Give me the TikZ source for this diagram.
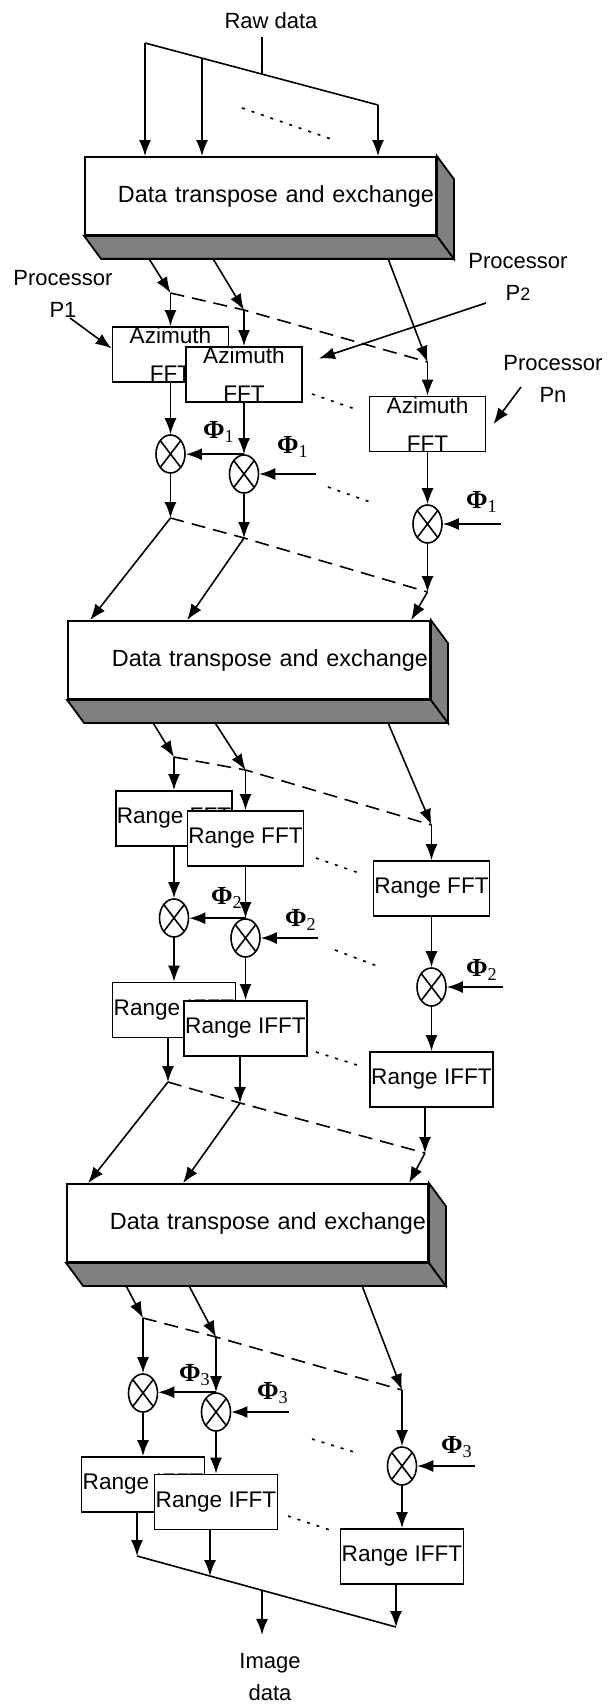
\documentclass[tikz,border=0pt]{standalone}
\usepackage[no-math]{fontspec}
\setmainfont{Liberation Sans}
\newfontfamily\phifont{Liberation Serif}
\usepackage{tikz}
\usetikzlibrary{shapes.geometric,arrows.meta,calc,positioning}

\newcommand{\phterm}[1]{\textbf{Φ}\textsubscript{#1}}

\tikzset{
  wire/.style={line width=0.8pt},
  flow/.style={wire, -{Latex[length=8pt,width=6pt]}},
  link/.style={line width=0.8pt, dash pattern=on 7pt off 4pt},
  skip/.style={line width=0.8pt, dash pattern=on 1.5pt off 3.5pt},
  xchg/.style={draw, line width=0.9pt, fill=white, minimum height=39pt,
    inner sep=1pt, align=right, font=\fontsize{11.7}{14}\selectfont},
  face/.style={draw, line width=0.9pt, fill=gray},
  procbox/.style={draw, line width=0.9pt, fill=white, minimum width=58pt,
    minimum height=27.5pt, inner sep=0pt, align=center,
    font=\fontsize{11.3}{19}\selectfont},
  mult/.style={ellipse, draw, line width=0.8pt, fill=white, minimum width=14.5pt,
    minimum height=19pt, inner sep=0pt,
    path picture={\draw[line width=0.8pt]
      (path picture bounding box.north west) -- (path picture bounding box.south east)
      (path picture bounding box.north east) -- (path picture bounding box.south west);}},
  plabel/.style={align=center, inner sep=1pt, font=\fontsize{11}{16}\selectfont},
  phase/.style={inner sep=0pt, font=\phifont\fontsize{13}{13}\selectfont}
}

\begin{document}
\begin{tikzpicture}[x=0.5pt,y=-0.5pt]
    \useasboundingbox (0,0) rectangle (607,1706);

    % Raw data
    \node[plabel] (raw) at (271,21) {Raw data};
    \coordinate (rl) at (145,43);
    \coordinate (rm) at (202,58);
    \coordinate (rj) at (262,74);
    \coordinate (rr) at (378,105);

    % Transpose 1
    \node[xchg, minimum width=175.5pt, text width=173.5pt] (tr1) at (260.5,196) {Data transpose and exchange};
    \draw[face] (tr1.south west) -- (tr1.south east) -- ++(17,23) -- ([shift={(17,23)}]tr1.south west) -- cycle;
    \draw[face] (tr1.north east) -- ++(17,23) -- ([shift={(17,23)}]tr1.south east) -- (tr1.south east) -- cycle;

    \draw[wire] ($(rj |- raw.south)+(0,6)$) -- (rj);
    \draw[wire] (rl) -- (rr);
    \foreach \c in {rl,rm,rr}
        \draw[flow] (\c) -- (\c |- tr1.north);
    \draw[skip] (242,108) -- (331,139);

    % Processors
    \node[plabel] (p1) at (63,294) {Processor\\P1};
    \node[plabel] (p2) at (518,277) {Processor\\P{\fontsize{9}{9}\selectfont 2}};
    \node[plabel] (pn) at (553,379) {Processor\\Pn};

    % Azimuth FFT
    \coordinate (a1j) at (170.5,293);
    \coordinate (a2j) at (244,310);
    \coordinate (anj) at (427.5,362);
    \foreach \s/\j in {65/a1j, 129/a2j, 304/anj}
        \draw[flow] ($(tr1.south west)+(\s,23)$) -- (\j);
    \draw[link] (a1j) -- (a2j) -- (anj);

    \node[procbox] (az1) at (170.5,354.5) {Azimuth\\FFT};
    \node[procbox] (az2) at (244,374.5) {Azimuth\\FFT};
    \node[procbox] (azn) at (427.5,424) {Azimuth\\FFT};
    \draw[flow] (a1j) -- (az1.north);
    \draw[flow] (a2j) -- (az2.north);
    \draw[flow] (anj) -- (azn.north);
    \draw[skip] (312,394) -- (355,409);

    \coordinate (p1t) at (70,318);
    \coordinate (p2t) at (486,303);
    \coordinate (pnt) at (521,387);
    \draw[flow] (p1t) -- ([yshift=3pt]az1.west);
    \draw[flow] (p2t) -- ([shift={(8pt,8pt)}]az2.east);
    \draw[flow] (pnt) -- ([xshift=3.5pt]azn.east);

    % Phi 1
    \node[mult] (m11) at (170.5,454) {};
    \node[mult] (m12) at (244,474) {};
    \node[mult] (m1n) at (427.5,524) {};
    \draw[flow] (az1.south) -- (m11.north);
    \draw[flow] (az2.south) -- (m12.north);
    \draw[flow] (azn.south) -- (m1n.north);
    \draw[flow] (m12.north) -- (m12.north -| m11.east);
    \coordinate (f12) at (316,474);
    \coordinate (f1n) at (501,524);
    \draw[flow] (f12) -- (m12.east);
    \draw[flow] (f1n) -- (m1n.east);
    \node[phase] (ph11) at (219,432) {\phterm{1}};
    \node[phase] (ph12) at (293,447) {\phterm{1}};
    \node[phase] (ph1n) at (482,502) {\phterm{1}};
    \draw[skip] (328,487) -- (370,502);

    \coordinate (b1j) at (170.5,518);
    \coordinate (b2j) at (244,538);
    \coordinate (bnj) at (427.5,592);
    \draw[flow] (m11.south) -- (b1j);
    \draw[flow] (m12.south) -- (b2j);
    \draw[flow] (m1n.south) -- (bnj);
    \draw[link] (b1j) -- (b2j) -- (bnj);

    % Transpose 2
    \node[xchg, minimum width=181pt, text width=179pt] (tr2) at (249,660) {Data transpose and exchange};
    \draw[face] (tr2.south west) -- (tr2.south east) -- ++(17,23) -- ([shift={(17,23)}]tr2.south west) -- cycle;
    \draw[face] (tr2.north east) -- ++(17,23) -- ([shift={(17,23)}]tr2.south east) -- (tr2.south east) -- cycle;
    \foreach \j/\s in {b1j/23, b2j/120, bnj/344}
        \draw[flow] (\j) -- ($(tr2.north west)+(\s,0)$);

    % Range FFT
    \coordinate (d1j) at (174,757);
    \coordinate (d2j) at (245.5,770);
    \coordinate (dnj) at (431.5,825);
    \foreach \s/\j in {86/d1j, 148/d2j, 321/dnj}
        \draw[flow] ($(tr2.south west)+(\s,23)$) -- (\j);
    \draw[link] (d1j) -- (d2j) -- (dnj);

    \node[procbox] (rf1) at (174,818.5) {Range FFT};
    \node[procbox] (rf2) at (245.5,838.5) {Range FFT};
    \node[procbox] (rfn) at (431.5,888.5) {Range FFT};
    \draw[flow] (d1j) -- (rf1.north);
    \draw[flow] (d2j) -- (rf2.north);
    \draw[flow] (dnj) -- (rfn.north);
    \draw[skip] (316,858) -- (359,873);

    % Phi 2
    \node[mult] (m21) at (174,918) {};
    \node[mult] (m22) at (245.5,938) {};
    \node[mult] (m2n) at (431.5,987) {};
    \draw[flow] (rf1.south) -- (m21.north);
    \draw[flow] (rf2.south) -- (m22.north);
    \draw[flow] (rfn.south) -- (m2n.north);
    \draw[flow] (m22.north) -- (m22.north -| m21.east);
    \coordinate (f22) at (318,938);
    \coordinate (f2n) at (503,987);
    \draw[flow] (f22) -- (m22.east);
    \draw[flow] (f2n) -- (m2n.east);
    \node[phase] (ph21) at (227,898) {\phterm{2}};
    \node[phase] (ph22) at (301,920) {\phterm{2}};
    \node[phase] (ph2n) at (482,970) {\phterm{2}};
    \draw[skip] (335,950) -- (377,966);

    % Range IFFT
    \node[procbox, minimum width=61.5pt] (ri1) at (174,1010) {Range IFFT};
    \node[procbox, minimum width=61.5pt] (ri2) at (245.5,1028.5) {Range IFFT};
    \node[procbox, minimum width=61.5pt] (rin) at (431.5,1079.5) {Range IFFT};
    \draw[flow] (m21.south) -- (ri1.north);
    \draw[flow] (m22.south) -- (ri2.north);
    \draw[flow] (m2n.south) -- (rin.north);
    \draw[skip] (316,1052) -- (360,1066);

    \coordinate (e1j) at (168,1082);
    \coordinate (e2j) at (240,1103);
    \coordinate (enj) at (425,1153);
    \draw[flow] (ri1.south -| e1j) -- (e1j);
    \draw[flow] (ri2.south -| e2j) -- (e2j);
    \draw[flow] (rin.south -| enj) -- (enj);
    \draw[link] (e1j) -- (e2j) -- (enj);

    % Transpose 3
    \node[xchg, minimum width=180.5pt, text width=178.5pt] (tr3) at (247.5,1223) {Data transpose and exchange};
    \draw[face] (tr3.south west) -- (tr3.south east) -- ++(17,23) -- ([shift={(17,23)}]tr3.south west) -- cycle;
    \draw[face] (tr3.north east) -- ++(17,23) -- ([shift={(17,23)}]tr3.south east) -- (tr3.south east) -- cycle;
    \foreach \j/\s in {e1j/22, e2j/117, enj/343}
        \draw[flow] (\j) -- ($(tr3.north west)+(\s,0)$);

    % Phi 3
    \coordinate (g1j) at (143,1318);
    \coordinate (g2j) at (216,1337);
    \coordinate (gnj) at (402,1390);
    \foreach \s/\j in {60/g1j, 123/g2j, 296/gnj}
        \draw[flow] ($(tr3.south west)+(\s,23)$) -- (\j);
    \draw[link] (g1j) -- (g2j) -- (gnj);

    \node[mult] (m31) at (143,1393) {};
    \node[mult] (m32) at (216,1412) {};
    \node[mult] (m3n) at (402,1466) {};
    \draw[flow] (g1j) -- (m31.north);
    \draw[flow] (g2j) -- (m32.north);
    \draw[flow] (gnj) -- (m3n.north);
    \draw[flow] (m32.north) -- (m32.north -| m31.east);
    \coordinate (f32) at (289,1412);
    \coordinate (f3n) at (475,1466);
    \draw[flow] (f32) -- (m32.east);
    \draw[flow] (f3n) -- (m3n.east);
    \node[phase] (ph31) at (195,1375) {\phterm{3}};
    \node[phase] (ph32) at (273,1393) {\phterm{3}};
    \node[phase] (ph3n) at (457,1447) {\phterm{3}};
    \draw[skip] (312,1439) -- (354,1452);

    % Final Range IFFT
    \node[procbox, minimum width=61.5pt] (r31) at (143,1484.5) {Range IFFT};
    \node[procbox, minimum width=61.5pt] (r32) at (216,1502) {Range IFFT};
    \node[procbox, minimum width=61.5pt] (r3n) at (402,1556.5) {Range IFFT};
    \draw[flow] (m31.south) -- (r31.north);
    \draw[flow] (m32.south) -- (r32.north);
    \draw[flow] (m3n.south) -- (r3n.north);
    \draw[skip] (288,1516) -- (330,1530);

    % Image data
    \node[plabel] (img) at (270,1677) {Image\\data};
    \coordinate (h1) at (137,1556);
    \coordinate (h2) at (210,1576);
    \coordinate (hn) at (396,1627);
    \coordinate (hj) at (262,1590);
    \draw[flow] (r31.south -| h1) -- (h1);
    \draw[flow] (r32.south -| h2) -- (h2);
    \draw[flow] (r3n.south -| hn) -- (hn);
    \draw[wire] (h1) -- (hn);
    \draw[flow] (hj) -- ($(hj |- img.north)+(0,-16)$);
\end{tikzpicture}
\end{document}
